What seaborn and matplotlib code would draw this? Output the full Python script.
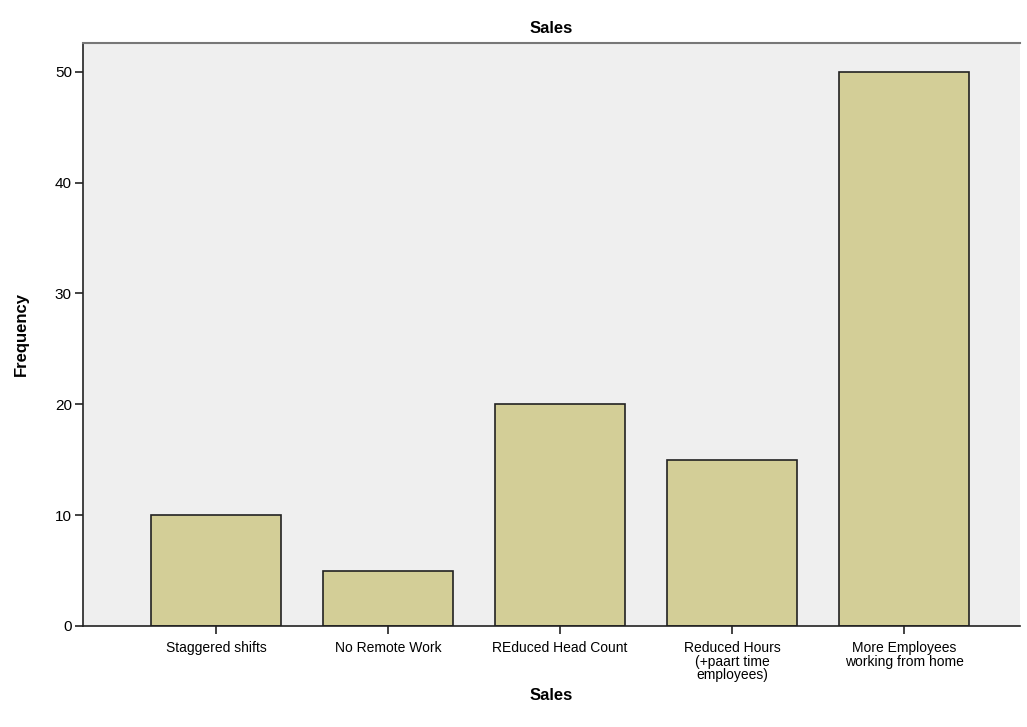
import matplotlib
matplotlib.use("Agg")
import matplotlib.pyplot as plt
import pandas as pd
import seaborn as sns

categories = [
    "Staggered shifts",
    "No Remote Work",
    "REduced Head Count",
    "Reduced Hours\n(+paart time\nemployees)",
    "More Employees\nworking from home",
]
frequency = [10, 5, 20, 15, 50]
y_ticks = [0, 10, 20, 30, 40, 50]

sns.set_style("white")
plt.rcParams["font.family"] = ["Liberation Sans", "DejaVu Sans"]
plt.rcParams["text.color"] = "black"
plt.rcParams["axes.labelcolor"] = "black"

df = pd.DataFrame({"Sales": categories, "Frequency": frequency})

fig = plt.figure(figsize=(10.27, 7.27), dpi=100)
ax = fig.add_axes([0.0808, 0.139, 0.9124, 0.802])
ax.set_facecolor("#efefef")

sns.barplot(
    data=df, x="Sales", y="Frequency", order=categories,
    color="#d3ce97", saturation=1, width=0.755,
    edgecolor="#222222", linewidth=1.2, ax=ax,
)

ax.set_xlim(-0.773, 4.674)
ax.set_ylim(0, 52.6)
ax.set_yticks(y_ticks)
ax.tick_params(axis="both", direction="out", length=6, width=1.2,
               color="#222222", labelcolor="black", bottom=True, left=True)
ax.tick_params(axis="y", labelsize=11, pad=2)
ax.tick_params(axis="x", labelsize=10, pad=5)
ax.set_xticklabels(categories, linespacing=0.95, va="top")

for side in ["left", "bottom"]:
    ax.spines[side].set_color("#222222")
    ax.spines[side].set_linewidth(1.2)
ax.spines["top"].set_color("#777777")
ax.spines["top"].set_linewidth(1.5)
ax.spines["right"].set_visible(False)

ax.set_title("Sales", fontsize=12, fontweight="bold", pad=7)
ax.set_xlabel("Sales", fontsize=12, fontweight="bold", labelpad=4)
ax.set_ylabel("Frequency", fontsize=12, fontweight="bold", labelpad=19)

fig.savefig("out.png", dpi=100)
plt.close(fig)
